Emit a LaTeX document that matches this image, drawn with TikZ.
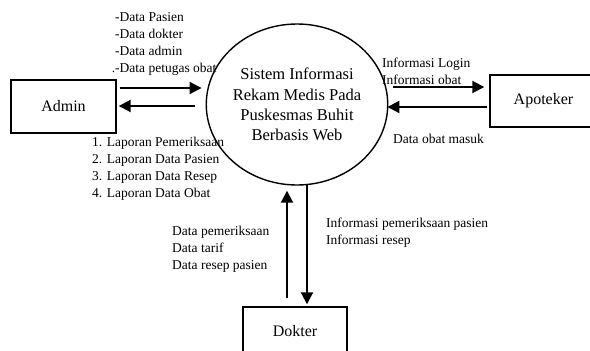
\documentclass[tikz,border=0pt]{standalone}
\usepackage{fontspec}
\setmainfont{Liberation Serif}
\usetikzlibrary{arrows.meta,shapes.geometric,calc}

\tikzset{
  entity/.style={draw, line width=1.4pt, rectangle, inner sep=0pt,
    font=\fontsize{16}{19}\selectfont},
  process/.style={draw, line width=1.4pt, ellipse, inner sep=0pt,
    align=center, font=\fontsize{16.5}{20.3}\selectfont},
  flow/.style={line width=1.9pt, -{Triangle[length=12pt,width=12pt]}},
  lbl/.style={anchor=north west, inner sep=0pt, align=left,
    font=\fontsize{13.5}{17}\selectfont}
}

\begin{document}
\begin{tikzpicture}[x=1pt, y=-1pt]
  \useasboundingbox (0,0) rectangle (590,351);

  % external entities and the central process
  \node[entity, minimum width=105pt, minimum height=53pt] (admin) at (63.5,106.5) {Admin};
  \node[entity, minimum width=107pt, minimum height=52pt] (apoteker) at (543.5,101) {Apoteker};
  \node[entity, minimum width=104pt, minimum height=48pt] (dokter) at (295,331) {Dokter};
  \node[process, minimum width=148pt, minimum height=161pt] (proc) at (297,104.5)
    {Sistem Informasi\\Rekam Medis Pada\\Puskesmas Buhit\\Berbasis Web};

  % data flows
  \draw[flow] ($(admin.east)+(3,-18.5)$) -- ($(proc.west)+(-4,-16.5)$);
  \draw[flow] ($(proc.west)+(-11,1.5)$) -- ($(admin.east)+(2,-0.5)$);
  \draw[flow] ($(proc.east)+(5,-17.5)$) -- ($(apoteker.west)+(-5,-14)$);
  \draw[flow] ($(apoteker.west)+(-2,6)$) -- ($(proc.east)+(-1,2.5)$);
  \draw[flow] ($(dokter.north)+(-8,-8)$) -- ($(proc.south)+(-10,5)$);
  \draw[flow] ($(proc.south)+(10,-1)$) -- ($(dokter.north)+(12,-2)$);

  % flow labels
  \node[lbl] (inAdmin) at (115,12.1)
    {-Data Pasien\\-Data dokter\\-Data admin\\\llap{.}-Data petugas obat};
  \node[lbl] (outAdmin) at (92,137)
    {1. Laporan Pemeriksaan\\2. Laporan Data Pasien\\3. Laporan Data Resep\\4. Laporan Data Obat};
  \node[lbl] (outApt) at (382,57.5) {Informasi Login\\Informasi obat};
  \node[lbl] (inApt) at (393,133.8) {Data obat masuk};
  \node[lbl] (inDok) at (172,226) {Data pemeriksaan\\Data tarif\\Data resep pasien};
  \node[lbl] (outDok) at (326,217.5) {Informasi pemeriksaan pasien\\Informasi resep};
\end{tikzpicture}
\end{document}
